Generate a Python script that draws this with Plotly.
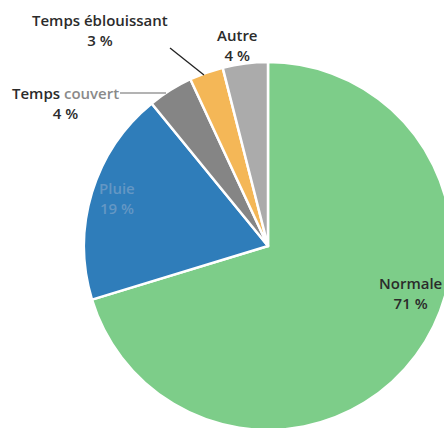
import plotly.graph_objects as go

# Weather conditions share (percent)
categories = ["Normale", "Pluie", "Temps couvert", "Temps éblouissant", "Autre"]
shares = [71, 19, 4, 3, 4]
colors = ["#7dcd89", "#2f7dba", "#858585", "#f4b757", "#ababab"]

# Canvas slightly larger than the viewport so the pie runs off the right/bottom
W, H = 460, 436


def px(x):
    return x / W


def py(y):
    return 1 - y / H


cx, cy, r = 268, 246, 184

fig = go.Figure(
    go.Pie(
        labels=categories,
        values=shares,
        sort=False,
        direction="clockwise",
        rotation=0,
        marker=dict(colors=colors, line=dict(color="white", width=2.5)),
        textinfo="none",
        hoverinfo="label+value",
        showlegend=False,
        domain=dict(x=[px(cx - r), px(cx + r)], y=[py(cy + r), py(cy - r)]),
    )
)

lab = {c: v for c, v in zip(categories, shares)}


def add_label(name, x, y, color="#2b2b2b", head=None):
    head = head or name
    fig.add_annotation(
        x=px(x), y=py(y), xref="paper", yref="paper",
        text=f"{head}<br>{lab[name]} %",
        showarrow=False, align="center",
        font=dict(family="'Open Sans', sans-serif", size=15, color=color, weight=600),
        xanchor="center", yanchor="middle",
    )


add_label("Temps éblouissant", 100, 30)
add_label("Autre", 237, 45)
add_label("Temps couvert", 65, 103.5, head="Temps <span style='color:#8a8a8a'>couvert</span>")
add_label("Pluie", 117, 197.5, color="#6497c4")
add_label("Normale", 410, 293)

# Leader lines for the small slices
fig.add_shape(type="line", xref="paper", yref="paper",
              x0=px(170), y0=py(48), x1=px(204), y1=py(75),
              line=dict(color="#222222", width=1.3))
fig.add_shape(type="line", xref="paper", yref="paper",
              x0=px(120), y0=py(93), x1=px(166), y1=py(93),
              line=dict(color="#9a9a9a", width=1.3))

fig.update_layout(
    width=W, height=H,
    margin=dict(l=0, r=0, t=0, b=0),
    paper_bgcolor="white", plot_bgcolor="white",
)

fig.write_html(
    "out.html",
    config={"displayModeBar": False},
    post_script="document.body.style.margin='0';document.body.style.overflow='hidden';",
)
